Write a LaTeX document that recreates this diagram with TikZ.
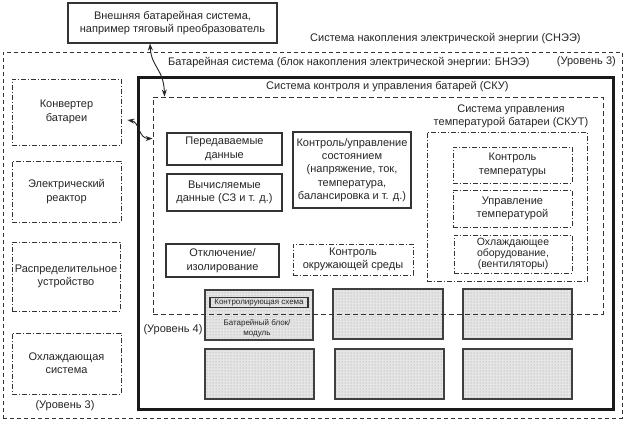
\documentclass[tikz,border=0pt]{standalone}
\usepackage{fontspec}
\setmainfont{Liberation Sans}
\usetikzlibrary{arrows.meta,patterns,calc}
\begin{document}
\begin{tikzpicture}[x=1pt,y=-1pt,
  tx/.style={font=\fontsize{11}{13.4}\selectfont, text=black!85, align=center, inner sep=1pt},
  smalltx/.style={font=\fontsize{8}{10}\selectfont, text=black!85, align=center, inner sep=0.5pt},
  solidbox/.style={tx, draw=black!80, line width=1.1pt},
  ddbox/.style={tx, draw=black!80, line width=0.9pt, dash pattern=on 5pt off 2pt on 1pt off 2pt},
  dbox/.style={draw=black!80, line width=0.9pt, dash pattern=on 4pt off 3pt},
  thickbox/.style={draw=black!90, line width=3pt},
  stip/.style={draw=black!75, line width=1.1pt, preaction={fill=gray!20}, pattern=dots, pattern color=gray!80},
  arr/.style={{Stealth[length=7pt,width=5pt]}-{Stealth[length=7pt,width=5pt]}, line width=0.9pt, draw=black!85}]
\useasboundingbox[fill=white] (0,0) rectangle (626,422);

% containers
\node[dbox, minimum width=619pt, minimum height=366pt] (outer) at (312.5,235) {};
\node[thickbox, minimum width=475pt, minimum height=331pt] (thick) at (375.5,243.5) {};

% top external box
\node[solidbox, minimum width=209pt, minimum height=40pt] (ext) at (172.5,23)
  {Внешняя батарейная система,\\например тяговый преобразователь};

% container labels
\node[tx, anchor=west] (lsnee) at (309,39) {Система накопления электрической энергии (СНЭЭ)};
\node[tx, anchor=west] (lbnee) at (167,63) {Батарейная система (блок накопления электрической энергии: БНЭЭ)};
\node[tx, anchor=east] (lvl3a) at (617,62) {(Уровень 3)};
\node[tx, anchor=west] (lsku) at (265,87) {Система контроля и управления батарей (СКУ)};
\node[tx] (lvl3b) at (65,406) {(Уровень 3)};
\node[tx] (lvl4) at (173,330) {(Уровень 4)};

% left column
\node[ddbox, minimum width=109pt, minimum height=66pt] (conv) at (66.5,112) {Конвертер\\батареи};
\node[ddbox, minimum width=109pt, minimum height=61pt] (react) at (66.5,191.5) {Электрический\\реактор};
\node[ddbox, minimum width=108pt, minimum height=69pt] (switch) at (66,276.5) {Распределительное\\устройство};
\node[ddbox, minimum width=109pt, minimum height=61pt] (cool) at (66.5,363.5) {Охлаждающая\\система};

% inner solid boxes
\node[solidbox, minimum width=115pt, minimum height=32pt] (pered) at (224.5,149) {Передаваемые\\данные};
\node[solidbox, minimum width=115pt, minimum height=37pt] (vych) at (224.5,192.5) {Вычисляемые\\данные (СЗ и т. д.)};
\node[solidbox, minimum width=118pt, minimum height=76pt] (sost) at (352,170)
  {Контроль/управление\\состоянием\\(напряжение, ток,\\температура,\\балансировка и т. д.)};
\node[solidbox, minimum width=113pt, minimum height=33pt] (otkl) at (222.5,260.5) {Отключение/\\изолирование};
\node[ddbox, minimum width=120pt, minimum height=31pt] (okr) at (353,259.5) {Контроль\\окружающей среды};

% thermal management
\node[ddbox, minimum width=160pt, minimum height=149pt] (skut) at (507,206.5) {};
\node[tx] (lskut) at (511,116.5) {Система управления\\температурой батареи (СКУТ)};
\node[ddbox, minimum width=119pt, minimum height=36pt] (ktemp) at (512.5,165) {Контроль\\температуры};
\node[ddbox, minimum width=119pt, minimum height=37pt] (utemp) at (512.5,208.5) {Управление\\температурой};
\node[ddbox, font=\fontsize{10.5}{11}\selectfont, minimum width=118pt, minimum height=38pt] (ohl) at (513,254)
  {Охлаждающее\\оборудование,\\(вентиляторы)};

% battery modules
\node[stip, minimum width=108pt, minimum height=50pt] (st1) at (259,315) {};
\node[stip, minimum width=110pt, minimum height=50pt] (st2) at (388,314) {};
\node[stip, minimum width=109pt, minimum height=50pt] (st3) at (517.5,314) {};
\node[stip, minimum width=109pt, minimum height=50pt] (st4) at (259.5,374) {};
\node[stip, minimum width=109pt, minimum height=50pt] (st5) at (389.5,374) {};
\node[stip, minimum width=109pt, minimum height=50pt] (st6) at (517.5,374) {};
\node[smalltx, draw=black!80, line width=1.3pt, minimum width=98pt, minimum height=10pt] (ksch) at (259,302.5) {Контролирующая схема};
\node[smalltx] (lblock) at (257,328) {Батарейный блок/\\модуль};

% BMS dashed boundary (drawn over modules)
\node[dbox, dash pattern=on 5pt off 3pt, minimum width=450pt, minimum height=217pt] (sku) at (378,205.5) {};

% connectors
\draw[arr] ($(ext.south)+(-22.5,0)$) .. controls ($(ext.south)+(-21,24)$) and ($(sku.north west)+(11,-28)$) .. ($(sku.north west)+(12,0)$);
\draw[arr] ($(conv.east)+(6,8)$) .. controls ($(conv.east)+(18,10)$) and ($(sku.north west)+(-14,42)$) .. ($(sku.north west)+(0,42)$);
\end{tikzpicture}
\end{document}
